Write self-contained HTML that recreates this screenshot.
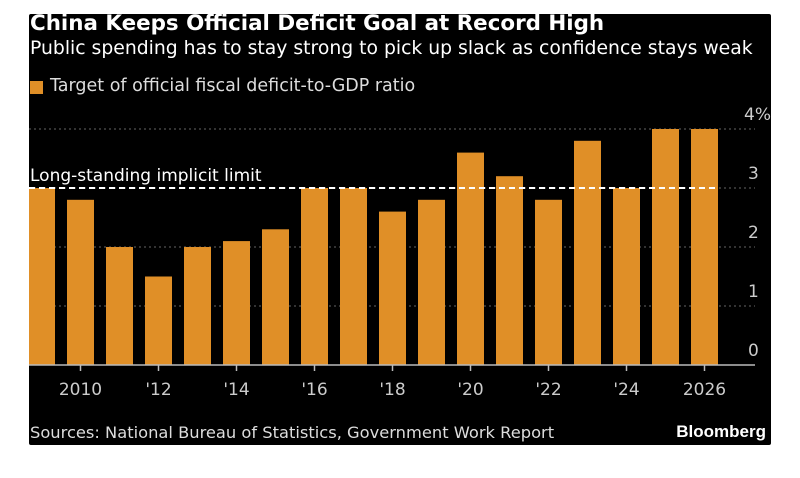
<!DOCTYPE html>
<html><head><meta charset="utf-8"><style>
body{margin:0;background:#fff;width:800px;height:478px;overflow:hidden;font-family:"Liberation Sans","DejaVu Sans",sans-serif}
#panel{position:absolute;left:29px;top:14px;width:742px;height:431px;background:#000;border-radius:2px}
.t{position:absolute;color:#fff;white-space:nowrap}
</style></head><body>
<div id="panel"></div>
<div class="t" style="left:30px;top:11px;font:bold 21.4px 'DejaVu Sans',sans-serif">China Keeps Official Deficit Goal at Record High</div>
<div class="t" style="left:30px;top:38px;font:18.8px 'DejaVu Sans',sans-serif">Public spending has to stay strong to pick up slack as confidence stays weak</div>
<div style="position:absolute;left:30px;top:81px;width:13px;height:13px;background:#e08f27"></div>
<div class="t" style="left:50px;top:76px;font:17.5px 'DejaVu Sans',sans-serif;color:#ddd">Target of official fiscal deficit-to-GDP ratio</div>
<svg id="c" width="800" height="478" style="position:absolute;left:0;top:0"></svg>
<div class="t" style="left:30px;top:423px;font:16.3px 'DejaVu Sans',sans-serif;color:#ddd">Sources: National Bureau of Statistics, Government Work Report</div>
<div class="t" style="right:34px;top:422px;font:bold 17px 'Liberation Sans',sans-serif">Bloomberg</div>
<script>
const years=[2009,2010,2011,2012,2013,2014,2015,2016,2017,2018,2019,2020,2021,2022,2023,2024,2025,2026];
const values=[3.0,2.8,2.0,1.5,2.0,2.1,2.3,3.0,3.0,2.6,2.8,3.6,3.2,2.8,3.8,3.0,4.0,4.0];
const yTicks=[0,1,2,3,4];
const yTickLabels=["0","1","2","3","4%"];
const xTickYears=[2010,2012,2014,2016,2018,2020,2022,2024,2026];
const xTickLabels=["2010","'12","'14","'16","'18","'20","'22","'24","2026"];
const limitValue=3;
const NS="http://www.w3.org/2000/svg";
const svg=document.getElementById('c');
const y=v=>365-v*59;
const x=yr=>41.5+(yr-2009)*39;
function el(t,a){const e=document.createElementNS(NS,t);for(const k in a)e.setAttribute(k,a[k]);svg.appendChild(e);return e;}
yTicks.forEach((v,i)=>{
 if(v>0){const g=el('line',{x1:29,x2:755,y1:y(v),y2:y(v),stroke:'#666','stroke-dasharray':'2,3','stroke-width':1});
 
 }
 const t=el('text',{x:v==4?744:748,y:y(v)-9,fill:'#ccc','font-size':17,'font-family':'DejaVu Sans'});
 t.textContent=yTickLabels[i];
 
 
});
values.forEach((v,i)=>{
 const left=Math.max(29,x(years[i])-13.5);
 const r=el('rect',{x:left,y:y(v),width:x(years[i])+13.5-left,height:y(0)-y(v),fill:'#e08f27'});
 
 
});
const d=el('line',{x1:29,x2:718,y1:y(limitValue),y2:y(limitValue),stroke:'#fff','stroke-width':2,'stroke-dasharray':'6,4'});


const lt=el('text',{x:30,y:y(limitValue)-7,fill:'#fff','font-size':17,'font-family':'DejaVu Sans'});
lt.textContent='Long-standing implicit limit';


const ax=el('line',{x1:29,x2:755,y1:y(0),y2:y(0),stroke:'#bbb','stroke-width':1.5});


xTickYears.forEach((yr,i)=>{
 const tk=el('line',{x1:x(yr),x2:x(yr),y1:y(0),y2:y(0)+6,stroke:'#bbb','stroke-width':1.5});
 
 
 const t=el('text',{x:x(yr),y:y(0)+30,fill:'#ccc','font-size':17,'font-family':'DejaVu Sans','text-anchor':'middle'});
 t.textContent=xTickLabels[i];
 
 
});
</script>
</body></html>
